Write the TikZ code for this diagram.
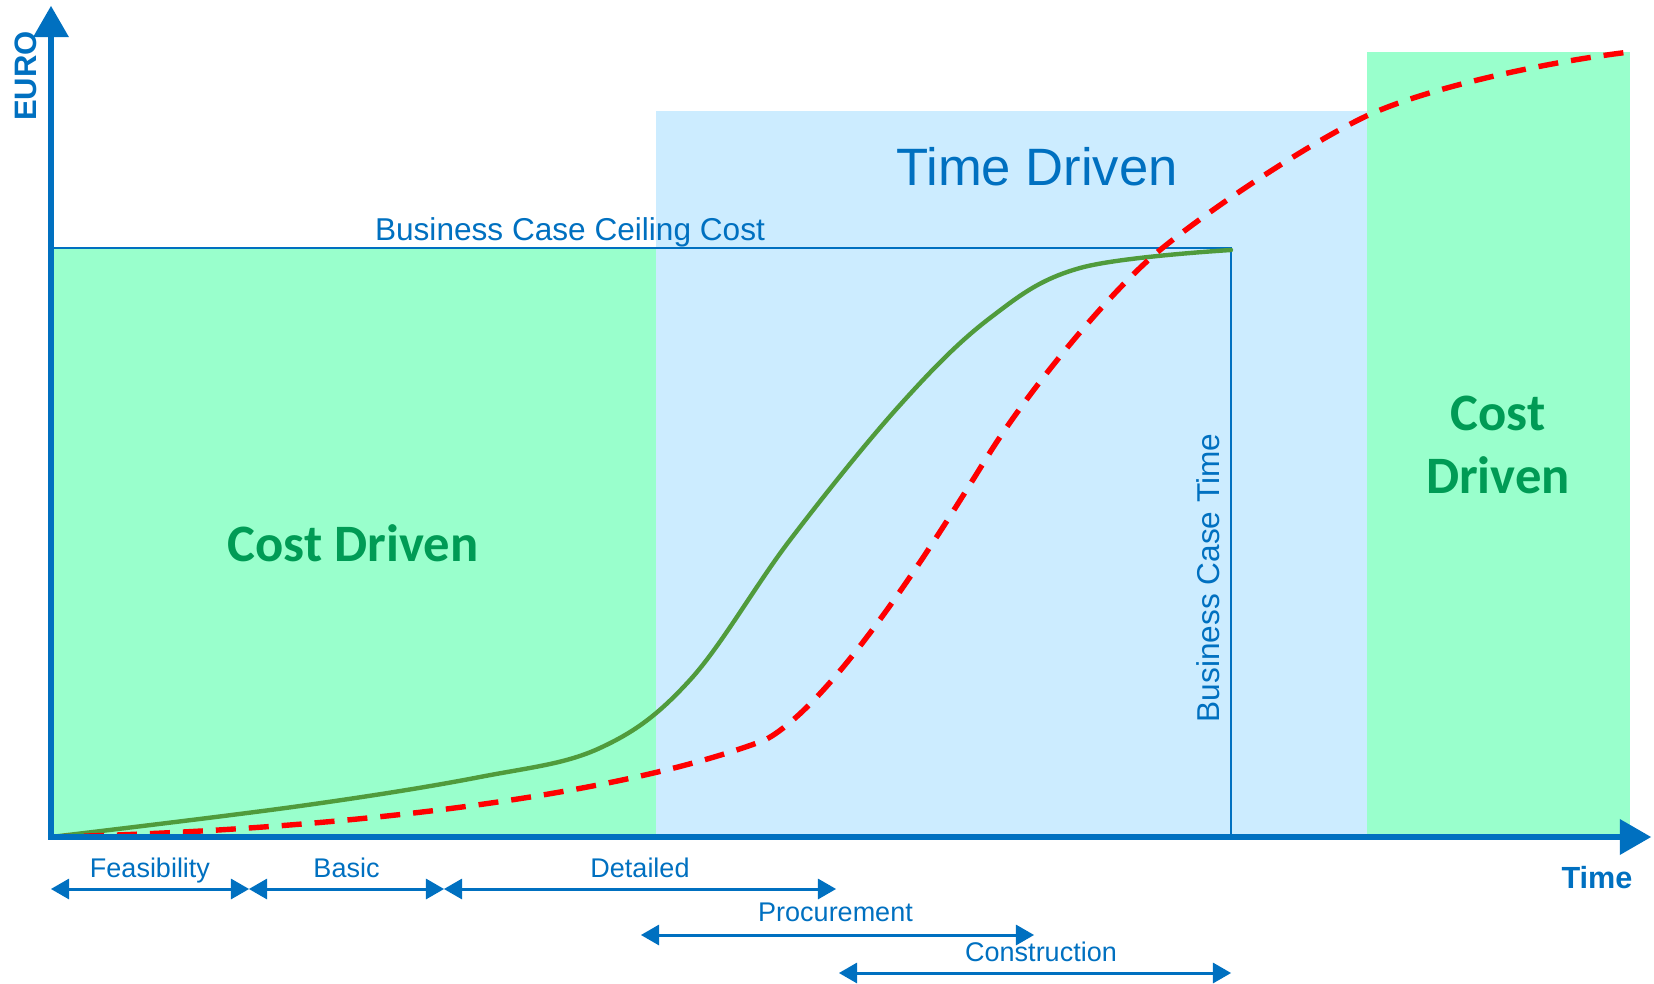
\documentclass[tikz,border=0pt]{standalone}
\usepackage{fontspec}
\setmainfont{Liberation Sans}
\newfontfamily\carlito{Carlito}
\usetikzlibrary{arrows}
\definecolor{axisblue}{RGB}{0,112,192}
\definecolor{costfill}{RGB}{153,255,204}
\definecolor{timefill}{RGB}{204,236,255}
\definecolor{costtext}{RGB}{0,155,85}
\definecolor{actual}{RGB}{80,155,60}

\begin{document}
\begin{tikzpicture} [
    x=.5pt, y=-.5pt,
    every node/.append style={text=axisblue, inner sep=0pt},
    axis/.style={draw=axisblue, line width=3.4pt, <->, >=triangle 60, miter limit=4},
    phase/.style={draw=axisblue, line width=1.5pt, <->, >=triangle 60},
    phase label/.style={midway, anchor=base, yshift=6pt, font=\fontsize{13.5}{16}\selectfont},
    big/.style={font=\fontsize{26.3}{31.6}\selectfont},
    cost/.style={font=\carlito\bfseries\fontsize{26.3}{31.6}\selectfont, text=costtext, align=center}
  ]

  \useasboundingbox (0,0) rectangle (1654,984);

  % background zones
  \fill [costfill] (51,248) rectangle (656,837);
  \fill [timefill] (656,111) rectangle (1367,837);
  \fill [costfill] (1367,52) rectangle (1630,837);

  % business case limits
  \coordinate (ceilstart) at (51,248);
  \coordinate (ceilend) at (1231,248);
  \coordinate (ceilfoot) at (1231,837);
  \draw [axisblue, line width=1pt] (ceilstart) -- (ceilend) -- (ceilfoot);

  % curves
  \draw [actual, line width=2.2pt, line cap=round] plot [smooth, tension=0.6] coordinates {
    (51,837) (300,806) (480,777) (600,748) (690,680) (790,540) (900,405)
    (990,318) (1080,268) (1231,250)};
  \draw [red, line width=2.7pt, dash pattern=on 10pt off 6.5pt]
    (51,837) .. controls (350,830) and (620,795) .. (765,740)
    .. controls (840,700) and (955,508) .. (989,454)
    .. controls (1029,390) and (1110,291) .. (1160,250)
    .. controls (1220,201) and (1323,135) .. (1373,113)
    .. controls (1440,84) and (1560,60) .. (1630,52);

  % axes
  \coordinate (origin) at (51,837);
  \coordinate (ytip) at (51,6);
  \coordinate (xtip) at (1651,837);
  \draw [axis] (ytip) -- (origin) -- (xtip);
  \node [rotate=90, font=\bfseries\fontsize{15.5}{18}\selectfont] (euro) at (26,76) {EURO};
  \node [font=\bfseries\fontsize{15.3}{18}\selectfont] (time) at (1597,878) {Time};

  % labels
  \node [font=\fontsize{15.8}{19}\selectfont, anchor=base] (ceiling) at (570,241) {Business Case Ceiling Cost};
  \node [rotate=90, font=\fontsize{15.8}{19}\selectfont] (bctime) at (1208,578) {Business Case Time};
  \node [big] (timedriven) at (1037,167) {Time Driven};
  \node [cost] (costleft) at (353,543) {Cost Driven};
  \node [cost] (costright) at (1498,445) {Cost\\Driven};

  % project phases
  \coordinate (p0) at (51,889);
  \coordinate (p1) at (249,889);
  \coordinate (p2) at (444,889);
  \coordinate (p3) at (836,889);
  \coordinate (q0) at (641,935);
  \coordinate (q1) at (1034,935);
  \coordinate (r0) at (839,973);
  \coordinate (r1) at (1231,973);
  \draw [phase] (p0) -- (p1) node [phase label] (feas) {Feasibility};
  \draw [phase] (p1) -- (p2) node [phase label] (basic) {Basic};
  \draw [phase] (p2) -- (p3) node [phase label] (detailed) {Detailed};
  \draw [phase] (q0) -- (q1) node [phase label, xshift=-1pt, yshift=1pt] (procure) {Procurement};
  \draw [phase] (r0) -- (r1) node [phase label, xshift=3pt] (construct) {Construction};
\end{tikzpicture}
\end{document}
